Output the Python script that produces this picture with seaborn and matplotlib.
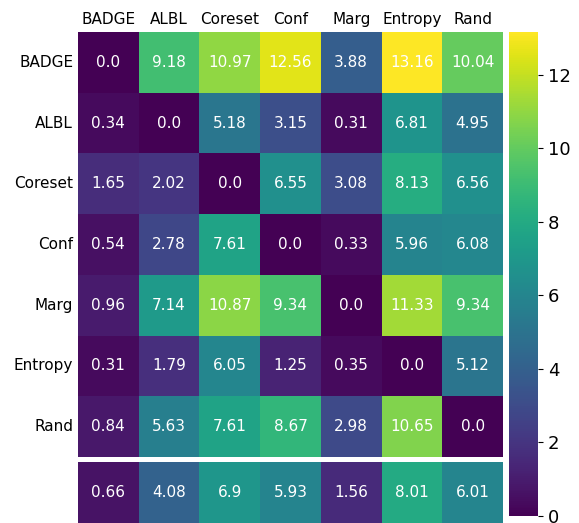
import numpy as np
import matplotlib
matplotlib.use("Agg")
import matplotlib.pyplot as plt
import seaborn as sns

labels = ["BADGE", "ALBL", "Coreset", "Conf", "Marg", "Entropy", "Rand"]
row_badge = [0.0, 9.18, 10.97, 12.56, 3.88, 13.16, 10.04]
row_albl = [0.34, 0.0, 5.18, 3.15, 0.31, 6.81, 4.95]
row_coreset = [1.65, 2.02, 0.0, 6.55, 3.08, 8.13, 6.56]
row_conf = [0.54, 2.78, 7.61, 0.0, 0.33, 5.96, 6.08]
row_marg = [0.96, 7.14, 10.87, 9.34, 0.0, 11.33, 9.34]
row_entropy = [0.31, 1.79, 6.05, 1.25, 0.35, 0.0, 5.12]
row_rand = [0.84, 5.63, 7.61, 8.67, 2.98, 10.65, 0.0]
row_avg = [0.66, 4.08, 6.9, 5.93, 1.56, 8.01, 6.01]

M = np.array([row_badge, row_albl, row_coreset, row_conf, row_marg, row_entropy, row_rand])
A = np.array([row_avg])
vmin, vmax = 0.0, M.max()

fig = plt.figure(figsize=(5.79, 5.23), dpi=100)
W, H = 579, 523
def rect(x0, y0, x1, y1):
    return [x0 / W, 1 - y1 / H, (x1 - x0) / W, (y1 - y0) / H]

ax = fig.add_axes(rect(78, 32, 503, 457))
ax2 = fig.add_axes(rect(78, 462, 503, 523))
cax = fig.add_axes(rect(509, 32, 538, 516))

annot_kws = {"color": "white", "fontsize": 11}
sns.heatmap(M, ax=ax, cmap="viridis", vmin=vmin, vmax=vmax,
            annot=np.vectorize(str)(M), fmt="", annot_kws=annot_kws,
            xticklabels=labels, yticklabels=labels, cbar_ax=cax)
sns.heatmap(A, ax=ax2, cmap="viridis", vmin=vmin, vmax=vmax,
            annot=np.vectorize(str)(A), fmt="", annot_kws=annot_kws,
            xticklabels=False, yticklabels=False, cbar=False)

ax.xaxis.tick_top()
ax.tick_params(axis="both", length=0, labelsize=11)
ax.set_xticklabels(labels, rotation=0)
ax.set_yticklabels(labels, rotation=0)
ax2.tick_params(length=0)
cax.tick_params(labelsize=13)

fig.savefig("out.png", dpi=100)
